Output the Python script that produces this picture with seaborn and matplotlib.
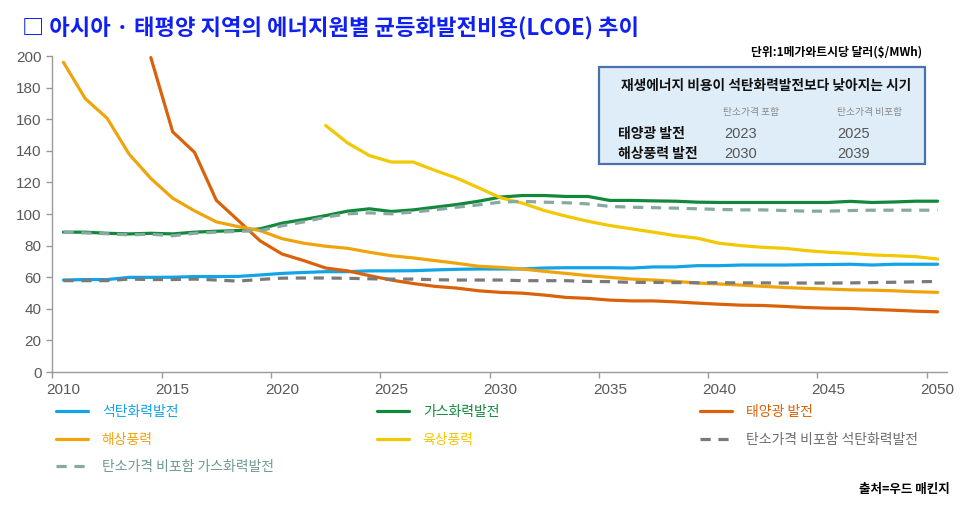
import numpy as np
import pandas as pd
import matplotlib
matplotlib.use("Agg")
import matplotlib.pyplot as plt
import seaborn as sns
from matplotlib.patches import Rectangle

nan = np.nan
years = list(range(2010, 2051))

coal = [58.2, 58.5, 58.5, 59.9, 59.9, 60.0, 60.4, 60.4, 60.5, 61.4,
        62.4, 63.0, 63.5, 63.5, 64.0, 64.0, 64.1, 64.6, 65.0, 65.2,
        65.2, 65.2, 65.8, 66.0, 66.0, 66.0, 65.8, 66.5, 66.5, 67.3,
        67.3, 67.7, 67.7, 67.7, 67.9, 68.0, 68.2, 67.7, 68.2, 68.2,
        68.2]
gas = [88.5, 88.5, 87.8, 87.4, 87.8, 87.4, 88.5, 89.1, 89.5, 90.6,
       94.2, 96.5, 99.0, 101.8, 103.3, 101.6, 102.6, 104.3, 106.0, 108.1,
       110.7, 111.7, 111.7, 111.1, 111.1, 108.6, 108.6, 108.3, 108.1, 107.5,
       107.3, 107.3, 107.3, 107.3, 107.3, 107.3, 108.0, 107.3, 107.6, 108.1,
       108.1]
solar = [nan, nan, nan, nan, 199, 152, 139, 108.6, 95.9, 83,
         74.7, 70.5, 65.8, 64, 61, 58.2, 56, 54.2, 53.1, 51.4,
         50.4, 49.9, 48.7, 47.2, 46.6, 45.5, 45, 45, 44.4, 43.6,
         42.9, 42.3, 42.1, 41.5, 40.8, 40.4, 40.2, 39.6, 39.1, 38.5,
         38.1]
offshore = [196, 173, 160.6, 138, 122.5, 110, 102, 95, 92, 89.5,
            84.4, 81.5, 79.6, 78.3, 75.8, 73.6, 72.2, 70.5, 68.8, 66.9,
            66.2, 65.2, 63.7, 62.4, 61, 59.9, 58.8, 58.2, 57.4, 56.3,
            55.7, 55, 54.2, 53.5, 52.9, 52.5, 52, 51.8, 51.4, 50.8,
            50.4]
onshore = [nan, nan, nan, nan, nan, nan, nan, nan, nan, nan,
           nan, nan, 156, 145, 137, 132.9, 132.9, 127.6, 122.7, 116.6,
           110.3, 106.9, 102.2, 98.6, 95.4, 92.7, 90.6, 88.5, 86.3, 84.7,
           81.5, 80, 78.9, 78.3, 76.8, 75.8, 75.1, 74.1, 73.6, 73,
           71.5]
coal_nc = [57.8, 57.8, 57.8, 58.8, 58.5, 58.5, 58.8, 58.2, 57.5, 58.6,
           59.4, 59.5, 59.5, 59.3, 59.0, 58.8, 58.8, 58.4, 58.2, 58.2,
           58.2, 57.8, 57.8, 57.8, 57.3, 57.2, 56.7, 56.7, 56.6, 56.5,
           56.5, 56.4, 56.4, 56.3, 56.3, 56.3, 56.4, 56.6, 56.8, 57.1,
           57.3]
gas_nc = [88.5, 88.0, 87.5, 86.8, 87.2, 86.2, 87.8, 88.5, 89.0, 89.5,
          92.5, 95.0, 98.0, 100.1, 100.7, 100.1, 101.2, 102.6, 104.3, 105.8,
          107.5, 108.0, 107.5, 107.1, 106.4, 104.8, 104.3, 104.0, 103.7, 103.3,
          102.9, 102.6, 102.6, 102.2, 101.8, 101.8, 102.2, 102.4, 102.4, 102.4,
          102.4]

labels = ["석탄화력발전", "가스화력발전", "태양광 발전", "해상풍력", "육상풍력",
          "탄소가격 비포함 석탄화력발전", "탄소가격 비포함 가스화력발전"]
series = [coal, gas, solar, offshore, onshore, coal_nc, gas_nc]
colors = ["#12a4e6", "#12883a", "#d9620b", "#efa40c", "#f2c800", "#7a7a7a", "#86aaa2"]
dashed = [False, False, False, False, False, True, True]

xticks = list(range(2010, 2051, 5))
xticklabels = [str(y) for y in xticks]
yticks = list(range(0, 201, 20))

sns.set_theme(style="white")
plt.rcParams['font.family'] = ['Liberation Sans', 'Noto Sans CJK KR', 'DejaVu Sans']

W, H = 970, 508
fig = plt.figure(figsize=(9.7, 5.08), dpi=100)

def fx(px):
    return px / W

def fy(py):
    return 1 - py / H

ax = fig.add_axes([fx(52.5), fy(372), fx(947) - fx(52.5), fy(56) - fy(372)])

handles = {}
for i in range(len(series)):
    df = pd.DataFrame({"year": np.array(years) + 0.5, "value": series[i]}).dropna()
    sns.lineplot(data=df, x="year", y="value", ax=ax, color=colors[i],
                 linewidth=2.3, label=labels[i], zorder=3 if dashed[i] else 2)
    ln = ax.get_lines()[-1]
    if dashed[i]:
        ln.set_dashes([3.2, 2.4])
        ln.set_dash_capstyle("butt")
    handles[i] = ln

if ax.legend_ is not None:
    ax.legend_.remove()

ax.set_xlim(2010, 2050.93)
ax.set_ylim(0, 200)
# tick marks at category boundaries, labels at category centres
ax.set_xticks(xticks)
ax.set_xticklabels([""] * len(xticks))
ax.set_xticks([t + 0.5 for t in xticks], minor=True)
ax.set_xticklabels(xticklabels, minor=True)
ax.set_yticks(yticks)
ax.set_xlabel("")
ax.set_ylabel("")
for s in ["top", "right"]:
    ax.spines[s].set_visible(False)
for s in ["left", "bottom"]:
    ax.spines[s].set_color("#9a9a9a")
    ax.spines[s].set_linewidth(1.0)
ax.tick_params(axis="x", which="major", direction="out", length=4, width=1,
               color="#9a9a9a", bottom=True)
ax.tick_params(axis="y", which="major", direction="out", length=4, width=1,
               color="#9a9a9a", labelcolor="#595959", labelsize=11, left=True, pad=4)
ax.tick_params(axis="x", which="minor", length=0, labelcolor="#595959", labelsize=11, pad=8,
               bottom=True)
ax.grid(False)

# legends (three columns)
cols = [([0, 3, 6], 56), ([1, 4], 377), ([2, 5], 700)]
for idxs, xpx in cols:
    leg = fig.legend(handles=[handles[i] for i in idxs], labels=[labels[i] for i in idxs],
                     loc="upper left", bbox_to_anchor=(fx(xpx), fy(405)),
                     frameon=False, borderpad=0, borderaxespad=0,
                     handlelength=2.3, handletextpad=1.0, labelspacing=0.98,
                     prop={"family": ["Noto Sans CJK KR"], "size": 10, "weight": "medium"})
    for t, i in zip(leg.get_texts(), idxs):
        c = colors[i]
        if i == 5:
            c = "#6e6e6e"
        if i == 6:
            c = "#6e9a90"
        t.set_color(c)

# title
fig.text(fx(22), fy(28), "□ 아시아 · 태평양 지역의 에너지원별 균등화발전비용(LCOE) 추이",
         ha="left", va="center", color="#1020f2", fontsize=16, fontweight="bold",
         family=["Noto Sans CJK KR", "DejaVu Sans"])

# unit
fig.text(fx(922), fy(52), "단위:1메가와트시당 달러($/MWh)", ha="right", va="center",
         color="black", fontsize=8.5, fontweight="bold", family=["Noto Sans CJK KR"])

# inset box
fig.patches.append(Rectangle((fx(599), fy(164)), fx(925) - fx(599), fy(67) - fy(164),
                             transform=fig.transFigure, facecolor="#deedf8",
                             edgecolor="#4a70ae", linewidth=1.6, zorder=5))
fig.text(fx(621), fy(86), "재생에너지 비용이 석탄화력발전보다 낮아지는 시기", ha="left", va="center",
         fontsize=9.9, fontweight="bold", color="#111111", family=["Noto Sans CJK KR"], zorder=6)
fig.text(fx(723), fy(112), "탄소가격 포함", ha="left", va="center", fontsize=7,
         color="#8a8a8a", family=["Noto Sans CJK KR"], zorder=6)
fig.text(fx(837), fy(112), "탄소가격 비포함", ha="left", va="center", fontsize=7,
         color="#8a8a8a", family=["Noto Sans CJK KR"], zorder=6)
rows = [("태양광 발전", "2023", "2025", 134), ("해상풍력 발전", "2030", "2039", 154)]
for lab, a, b, ypx in rows:
    fig.text(fx(618), fy(ypx), lab, ha="left", va="center", fontsize=10, fontweight="bold",
             color="#111111", family=["Noto Sans CJK KR"], zorder=6)
    fig.text(fx(724), fy(ypx), a, ha="left", va="center", fontsize=10.5,
             color="#555555", family=["Liberation Sans"], zorder=6)
    fig.text(fx(837), fy(ypx), b, ha="left", va="center", fontsize=10.5,
             color="#555555", family=["Liberation Sans"], zorder=6)

# source
fig.text(fx(950), fy(489), "출처=우드 매킨지", ha="right", va="center", fontsize=9,
         fontweight="bold", color="black", family=["Noto Sans CJK KR"])

fig.savefig("out.png", dpi=100)
